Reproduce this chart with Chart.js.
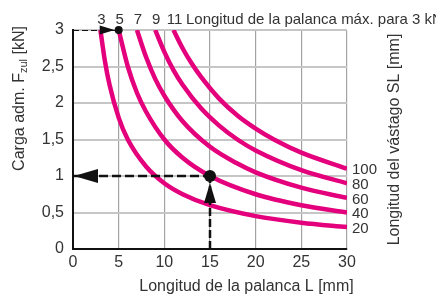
<!DOCTYPE html>
<html lang="es">
  <head>
    <meta charset="UTF-8" />
    <title>Carga admisible - Longitud de la palanca</title>
    <script src="https://cdn.jsdelivr.net/npm/chart.js"></script>
    <style>
      html,
      body {
        margin: 0;
        padding: 0;
        background: #fff;
      }
      #wrap {
        width: 436px;
        height: 294px;
      }
    </style>
  </head>
  <body>
    <div id="wrap"><canvas id="leverChart" width="436" height="294"></canvas></div>

    <script>
      // Longitud del vástago SL [mm] -> one curve each
      const rodLengths = [20, 40, 60, 80, 100];
      // Longitud de la palanca máx. para 3 kN (curve start on the top line)
      const maxLeverAt3kN = [3, 5, 7, 9, 11];

      // lever length L [mm] / admissible load F [kN]
      const lever20 = [3, 3.5, 4, 5, 6, 8, 10, 12, 15, 20, 25, 30];
      const load20 = [3.0, 2.57, 2.25, 1.8, 1.5, 1.13, 0.9, 0.75, 0.6, 0.45, 0.36, 0.3];
      const lever40 = [5, 6, 7, 8, 10, 12, 15, 20, 25, 30];
      const load40 = [3.0, 2.5, 2.14, 1.88, 1.5, 1.25, 1.0, 0.75, 0.6, 0.5];
      const lever60 = [7, 8, 9, 10, 12, 15, 18, 20, 25, 30];
      const load60 = [3.0, 2.63, 2.33, 2.1, 1.75, 1.4, 1.17, 1.05, 0.84, 0.7];
      const lever80 = [9, 10, 11, 12, 14, 16, 18, 20, 25, 30];
      const load80 = [3.0, 2.7, 2.45, 2.25, 1.93, 1.69, 1.5, 1.35, 1.08, 0.9];
      const lever100 = [11, 12, 13, 14, 16, 18, 20, 22, 25, 30];
      const load100 = [3.0, 2.75, 2.54, 2.36, 2.06, 1.83, 1.65, 1.5, 1.32, 1.1];

      // worked example: L = 15 mm on SL 40 gives 1 kN; SL 40 reaches 3 kN at L = 5
      const examplePoint = { x: 15, y: 1 };
      const maxPoint = { x: 5, y: 3 };

      const curveLevers = [lever20, lever40, lever60, lever80, lever100];
      const curveLoads = [load20, load40, load60, load80, load100];

      const MAGENTA = "#e4007c";
      const TEXT = "#333";
      const FONT = '"Liberation Sans", Arial, sans-serif';

      const curveSets = rodLengths.map((sl, i) => ({
        label: "SL " + sl,
        data: curveLevers[i].map((l, j) => ({ x: l, y: curveLoads[i][j] })),
        borderColor: MAGENTA,
        borderWidth: 4.5,
        pointRadius: 0,
        cubicInterpolationMode: "monotone",
        order: 2,
      }));

      const guideStyle = {
        borderColor: "#111",
        pointRadius: 0,
        order: 0,
      };
      const guideSets = [
        {
          ...guideStyle,
          label: "guia horizontal",
          data: [{ x: 0, y: examplePoint.y }, examplePoint],
          borderWidth: 2.5,
          borderDash: [9, 4],
        },
        {
          ...guideStyle,
          label: "guia vertical",
          data: [{ x: examplePoint.x, y: 0 }, examplePoint],
          borderWidth: 2.5,
          borderDash: [8, 3],
        },
        {
          ...guideStyle,
          label: "guia 3 kN",
          data: [{ x: 0, y: maxPoint.y }, maxPoint],
          borderWidth: 2,
          borderDash: [6, 3],
        },
      ];

      function arrowHead(ctx, tipX, tipY, dx, dy, len, half) {
        const bx = tipX - dx * len;
        const by = tipY - dy * len;
        ctx.beginPath();
        ctx.moveTo(tipX, tipY);
        ctx.lineTo(bx - dy * half, by + dx * half);
        ctx.lineTo(bx + dy * half, by - dx * half);
        ctx.closePath();
        ctx.fill();
      }

      function rotatedText(ctx, parts, cx, cy) {
        ctx.save();
        ctx.translate(cx, cy);
        ctx.rotate(-Math.PI / 2);
        let total = 0;
        parts.forEach((p) => {
          ctx.font = p.font;
          p.w = ctx.measureText(p.text).width;
          total += p.w;
        });
        let px = -total / 2;
        ctx.textAlign = "left";
        ctx.textBaseline = "alphabetic";
        parts.forEach((p) => {
          ctx.font = p.font;
          ctx.fillText(p.text, px, p.dy || 0);
          px += p.w;
        });
        ctx.restore();
      }

      const decorations = {
        id: "decorations",
        afterDatasetsDraw(chart) {
          const { ctx } = chart;
          const x = chart.scales.x;
          const y = chart.scales.y;

          ctx.save();
          ctx.fillStyle = "#111";

          // dots
          const ex = x.getPixelForValue(examplePoint.x);
          const ey = y.getPixelForValue(examplePoint.y);
          const mx = x.getPixelForValue(maxPoint.x);
          const my = y.getPixelForValue(maxPoint.y);
          ctx.beginPath();
          ctx.arc(ex, ey, 6, 0, Math.PI * 2);
          ctx.fill();
          ctx.beginPath();
          ctx.arc(mx, my, 4, 0, Math.PI * 2);
          ctx.fill();

          // arrow heads
          arrowHead(ctx, x.getPixelForValue(0) + 1, ey, -1, 0, 24, 7);
          arrowHead(ctx, ex, ey + 7, 0, -1, 20, 6);
          arrowHead(ctx, mx - 4, my, 1, 0, 15, 4.5);

          // labels at the top
          ctx.fillStyle = TEXT;
          ctx.font = "15px " + FONT;
          ctx.textBaseline = "alphabetic";
          ctx.textAlign = "center";
          maxLeverAt3kN.forEach((l) => {
            ctx.fillText(String(l), x.getPixelForValue(l) + 1, 24);
          });
          ctx.textAlign = "left";
          ctx.fillText("Longitud de la palanca máx. para 3 kN", 186, 24);

          // SL labels at the right end of each curve
          ctx.textBaseline = "middle";
          rodLengths.forEach((sl, i) => {
            const loads = curveLoads[i];
            const py = y.getPixelForValue(loads[loads.length - 1]);
            ctx.fillText(String(sl), x.right + 5, py + 1.5);
          });

          // axis titles
          ctx.textAlign = "center";
          ctx.textBaseline = "alphabetic";
          ctx.font = "16px " + FONT;
          ctx.fillText("Longitud de la palanca L [mm]", 246.5, 291);

          rotatedText(
            ctx,
            [
              { text: "Carga adm. F", font: "16px " + FONT },
              { text: "zul", font: "11px " + FONT, dy: 3 },
              { text: " [kN]", font: "16px " + FONT },
            ],
            24,
            98.5
          );
          rotatedText(
            ctx,
            [{ text: "Longitud del vástago SL [mm]", font: "16px " + FONT }],
            399,
            139.5
          );
          ctx.restore();
        },
      };

      new Chart(document.getElementById("leverChart"), {
        type: "line",
        data: { datasets: [...guideSets, ...curveSets] },
        options: {
          responsive: false,
          animation: false,
          events: [],
          layout: { padding: { left: 0, right: 89, top: 30, bottom: 0 } },
          plugins: {
            legend: { display: false },
            tooltip: { enabled: false },
          },
          scales: {
            x: {
              type: "linear",
              min: 0,
              max: 30,
              ticks: {
                stepSize: 5,
                color: TEXT,
                font: { family: FONT, size: 16 },
                padding: 4,
                maxRotation: 0,
              },
              grid: { color: "#a3a3a3", lineWidth: 1.2, drawTicks: false },
              border: { color: "#111", width: 2 },
              afterFit: (s) => {
                s.height = 45;
              },
            },
            y: {
              min: 0,
              max: 3,
              ticks: {
                stepSize: 0.5,
                color: TEXT,
                font: { family: FONT, size: 16 },
                padding: 9,
                callback: (v) => String(v).replace(".", ","),
              },
              grid: { color: "#c6c6c6", lineWidth: 2, drawTicks: false },
              border: { color: "#111", width: 2 },
              afterFit: (s) => {
                s.width = 73;
              },
            },
          },
        },
        plugins: [decorations],
      });
    </script>
  </body>
</html>
